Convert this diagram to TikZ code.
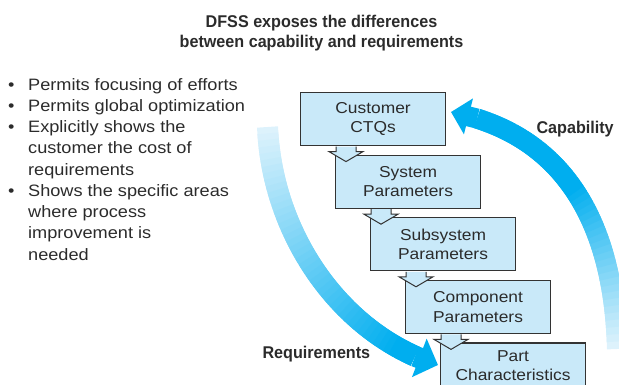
\documentclass[tikz,border=0pt]{standalone}
\usepackage{fontspec}
\setsansfont{Liberation Sans}[FakeStretch=1.1]
\newfontfamily\headfont{Liberation Sans}[FakeStretch=0.95]
\usepackage{xcolor}
\usepackage{tikz}
\usetikzlibrary{positioning, arrows.meta, calc}
\definecolor{boxfill}{HTML}{C9E9F9}
\definecolor{boxline}{HTML}{333333}
\definecolor{flowcyan}{HTML}{00AEEF}
\definecolor{flowpale}{HTML}{DDF2FC}
\definecolor{inktext}{HTML}{2B2B2B}

\begin{document}
\begin{tikzpicture}[x=1pt, y=1pt, font=\sffamily, text=inktext,
 bx/.style={draw=boxline, line width=1.1pt, fill=boxfill, minimum width=145pt, minimum height=53pt,
  inner sep=0pt, align=center, font=\sffamily\fontsize{15.8}{19.5}\selectfont},
 nextbx/.style={bx, below=8.5pt of #1.south west, anchor=north west, xshift=35pt},
 tagline/.style={font=\headfont\bfseries\fontsize{17}{20}\selectfont},
 dropar/.style={draw=boxline, line width=1pt, fill=boxfill, line join=miter}]
\useasboundingbox (0,0) rectangle (619,384);

\node[tagline, align=center, anchor=base] (head) at (321.5,337) {DFSS exposes the differences\\between capability and requirements};

\node[anchor=north west, inner sep=0pt, align=left, font=\sffamily\fontsize{16.5}{21.25}\selectfont] (gains) at (8,306)
 {\makebox[20pt][l]{\textbullet}Permits focusing of efforts\\
  \makebox[20pt][l]{\textbullet}Permits global optimization\\
  \makebox[20pt][l]{\textbullet}Explicitly shows the\\
  \hspace*{20pt}customer the cost of\\
  \hspace*{20pt}requirements\\
  \makebox[20pt][l]{\textbullet}Shows the specific areas\\
  \hspace*{20pt}where process\\
  \hspace*{20pt}improvement is\\
  \hspace*{20pt}needed};

% requirements flow down the chain
\coordinate (reqtop) at (267.5,257);
\coordinate (reqtip) at (438,19);
\foreach \i in {0,...,50}
  \path (reqtop) .. controls (272,150) and (340,50) .. (reqtip) coordinate[pos=\i/50] (rq\i);
\foreach \i in {0,...,45}{
  \pgfmathtruncatemacro\j{min(\i+2,46)}
  \pgfmathsetmacro\m{min(100,100*\i/42)}
  \draw[line width=21pt, flowcyan!\m!flowpale] (rq\i) -- (rq\j);
}
\draw[line width=21pt, flowcyan, -{Triangle[width=40pt,length=20pt]}] (rq46) -- (reqtip);

% capability flows back up
\coordinate (capfoot) at (617,35);
\coordinate (captip) at (451,272);
\foreach \i in {0,...,50}
  \path (capfoot) .. controls (614,160) and (565,250) .. (captip) coordinate[pos=\i/50] (cp\i);
\foreach \i in {0,...,45}{
  \pgfmathtruncatemacro\j{min(\i+2,46)}
  \pgfmathsetmacro\m{min(100,100*\i/25)}
  \draw[line width=20pt, flowcyan!\m!flowpale] (cp\i) -- (cp\j);
}
\draw[line width=20pt, flowcyan, -{Triangle[width=36pt,length=18pt]}] (cp46) -- (captip);

\node[tagline, anchor=base west] (reqlabel) at (259,26) {Requirements};
\node[tagline, anchor=base west] (caplabel) at (533,251) {Capability};

\node[bx, anchor=north west] (ctq) at (300,292) {Customer\\CTQs};
\node[nextbx=ctq] (sys) {System\\Parameters};
\node[nextbx=sys] (sub) {Subsystem\\Parameters};
\node[nextbx=sub] (comp) {Component\\Parameters};
\node[nextbx=comp, minimum height=45pt] (part) {Part\\Characteristics};

\foreach \a in {ctq,sys,sub,comp}
  \draw[dropar] ($(\a.south west)+(36,-0.5)$) -- ++(0,-5) -- ++(-7,0) -- ++(17,-10) -- ++(17,10) -- ++(-7,0) -- ++(0,5);

\end{tikzpicture}
\end{document}
